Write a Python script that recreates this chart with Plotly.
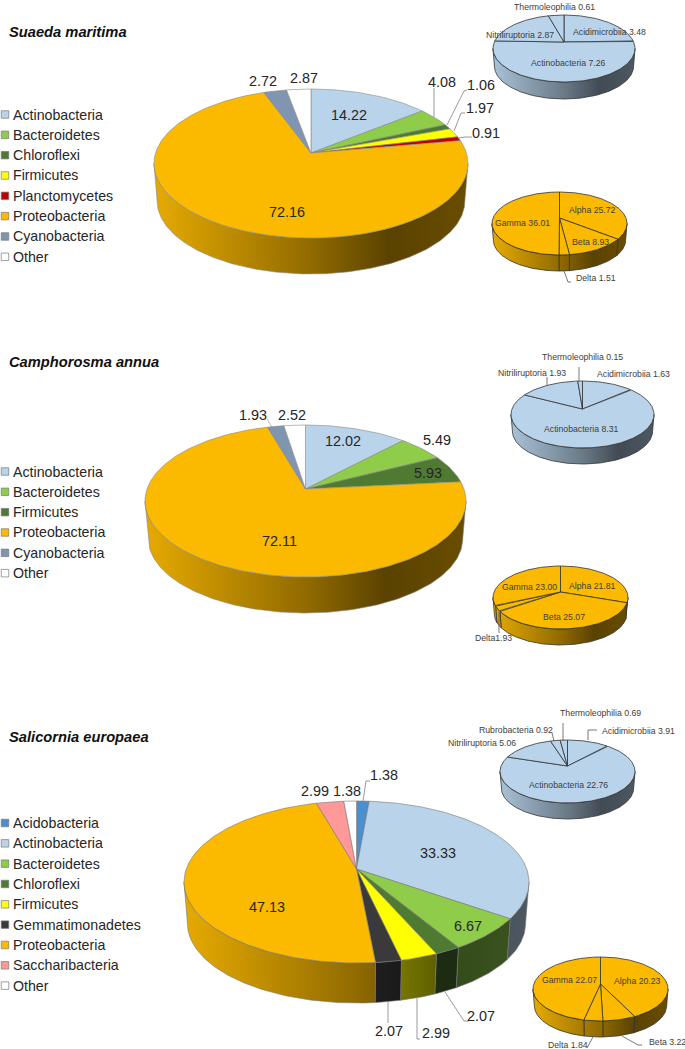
import math
import numpy as np
import plotly.graph_objects as go

# ---------- data ----------
titles = ["Suaeda maritima", "Camphorosma annua", "Salicornia europaea"]

main1_names = ["Actinobacteria", "Bacteroidetes", "Chloroflexi", "Firmicutes", "Planctomycetes", "Proteobacteria", "Cyanobacteria", "Other"]
main1_values = [14.22, 4.08, 1.06, 1.97, 0.91, 72.16, 2.72, 2.87]
main2_names = ["Actinobacteria", "Bacteroidetes", "Firmicutes", "Proteobacteria", "Cyanobacteria", "Other"]
main2_values = [12.02, 5.49, 5.93, 72.11, 1.93, 2.52]
main3_names = ["Acidobacteria", "Actinobacteria", "Bacteroidetes", "Chloroflexi", "Firmicutes", "Gemmatimonadetes", "Proteobacteria", "Saccharibacteria", "Other"]
main3_values = [1.38, 33.33, 6.67, 2.07, 2.99, 2.07, 47.13, 2.99, 1.38]

actino1_names = ["Acidimicrobiia", "Actinobacteria", "Nitriliruptoria", "Thermoleophilia"]
actino1_values = [3.48, 7.26, 2.87, 0.61]
actino2_names = ["Acidimicrobiia", "Actinobacteria", "Nitriliruptoria", "Thermoleophilia"]
actino2_values = [1.63, 8.31, 1.93, 0.15]
actino3_names = ["Acidimicrobiia", "Actinobacteria", "Nitriliruptoria", "Rubrobacteria", "Thermoleophilia"]
actino3_values = [3.91, 22.76, 5.06, 0.92, 0.69]

proteo_names = ["Alpha", "Beta", "Delta", "Gamma"]
proteo1_values = [25.72, 8.93, 1.51, 36.01]
proteo2_values = [21.81, 25.07, 1.93, 23.00]
proteo3_values = [20.23, 3.22, 1.84, 22.07]

# ---------- styles ----------
COLORS = {
    "Actinobacteria": "#B8D3EA", "Bacteroidetes": "#8ECC4A", "Chloroflexi": "#4E7A32",
    "Firmicutes": "#FFFF00", "Planctomycetes": "#C00000", "Proteobacteria": "#FBB900",
    "Cyanobacteria": "#7F95B0", "Other": "#FFFFFF", "Acidobacteria": "#4A90D0",
    "Gemmatimonadetes": "#3A3A3A", "Saccharibacteria": "#FF9999",
}
COLORS2 = dict(COLORS, Firmicutes=COLORS["Chloroflexi"])
FONT = "Liberation Sans"
BLUE, ORANGE = COLORS["Actinobacteria"], COLORS["Proteobacteria"]
SHADE = [(0.0, 0.92), (0.5, 0.58), (0.75, 0.36), (1.0, 0.42)]


def rgb(h):
    return [int(h[i:i + 2], 16) for i in (1, 3, 5)]


def side_scale(color):
    r = rgb(color)
    return [[p, "rgb(%d,%d,%d)" % tuple(c * m for c in r)] for p, m in SHADE]


fig = go.Figure()


def draw_pie(values, colors, box, line="#555555", lw=0.6):
    """box = left, right, top, apex_y, front_y, bottom_y of the drawn pie (page px)."""
    left, right, top, apex, front, bottom = box
    cx = (left + right) / 2
    fr, ba = front - apex, apex - top
    k = -(fr - ba) / (fr + ba)
    b = fr * (1 + k)
    A = (right - left) / 2 * math.sqrt(1 - k * k)
    S = 0.98
    d = bottom - apex - S * fr

    def top_pt(a):
        u, v = np.sin(a), -np.cos(a)
        w = 1 + k * v
        return cx + A * u / w, apex + b * v / w

    def bot_pt(a):
        x, y = top_pt(a)
        return cx + S * (x - cx), apex + d + S * (y - apex)

    total = sum(values)
    edges = np.cumsum([0] + list(values)) / total * 2 * math.pi
    vis0 = math.acos(k)
    vis1 = 2 * math.pi - vis0
    # sides first
    for i, col in enumerate(colors):
        a0, a1 = max(edges[i], vis0), min(edges[i + 1], vis1)
        if a1 <= a0:
            continue
        aa = np.linspace(a0, a1, max(3, int((a1 - a0) * 60)))
        tx, ty = top_pt(aa)
        bx, by = bot_pt(aa[::-1])
        fig.add_trace(go.Scatter(
            x=np.r_[tx, bx, tx[0]], y=np.r_[ty, by, ty[0]], mode="lines",
            line=dict(color=line, width=lw), fill="toself",
            fillgradient=dict(type="horizontal", start=left, stop=right, colorscale=side_scale(col)),
            hoverinfo="skip", showlegend=False))
    # top faces
    for i, col in enumerate(colors):
        aa = np.linspace(edges[i], edges[i + 1], max(3, int((edges[i + 1] - edges[i]) * 60)))
        tx, ty = top_pt(aa)
        fig.add_trace(go.Scatter(
            x=np.r_[cx, tx, cx], y=np.r_[apex, ty, apex], mode="lines",
            line=dict(color=line, width=lw), fill="toself", fillcolor=col,
            hoverinfo="skip", showlegend=False))


def fmt(v):
    return "%.2f" % v


def text(x, y, s, size=14.4, color="#262626"):
    fig.add_annotation(x=x, y=y, text=s, showarrow=False, xanchor="center", yanchor="middle",
                       font=dict(family=FONT, size=size, color=color))


def leader(xs, ys, color="#808080"):
    fig.add_trace(go.Scatter(x=xs, y=ys, mode="lines", line=dict(color=color, width=0.8),
                             hoverinfo="skip", showlegend=False))


def legend(names, y0, palette, pitch=20.33):
    ys = [y0 + i * pitch for i in range(len(names))]
    fig.add_trace(go.Scatter(
        x=[5] * len(names), y=ys, mode="markers",
        marker=dict(symbol="square", size=7.5, color=[palette[n] for n in names],
                    line=dict(color="#7a7a7a", width=0.7)),
        hoverinfo="skip", showlegend=False))
    for n, y in zip(names, ys):
        fig.add_annotation(x=12.5, y=y, text=n, showarrow=False, xanchor="left", yanchor="middle",
                           xshift=-2, font=dict(family=FONT, size=14.2, color="#262626"))


def cols(names, palette=COLORS):
    return [palette[n] for n in names]


# ---------- pies ----------
draw_pie(main1_values, cols(main1_names), (154, 468, 89, 153, 238, 274), "#8a8a8a", 0.6)
draw_pie(main2_values, cols(main2_names, COLORS2), (145, 466, 425, 489, 577, 613), "#8a8a8a", 0.6)
draw_pie(main3_values, cols(main3_names), (184, 529, 801, 869, 963, 1003), "#777777", 0.6)
draw_pie(actino1_values, [BLUE] * 4, (493, 635, 15, 42, 82, 99), "#333333", 0.8)
draw_pie(proteo1_values, [ORANGE] * 4, (492, 627, 192, 218, 255, 271), "#333333", 0.8)
draw_pie(actino2_values, [BLUE] * 4, (511, 654, 381, 409, 448, 464), "#333333", 0.8)
draw_pie(proteo2_values, [ORANGE] * 4, (493, 628, 566, 592, 629, 645), "#333333", 0.8)
draw_pie(actino3_values, [BLUE] * 5, (500, 635, 740, 766, 803, 819), "#333333", 0.8)
draw_pie(proteo3_values, [ORANGE] * 4, (533, 668, 957, 984, 1021, 1037), "#333333", 0.8)

# ---------- leaders ----------
leader([434, 434], [117, 88])
leader([447, 464, 467], [125, 91, 90])
leader([454, 461, 465], [131, 113, 113])
leader([459, 465, 472], [138, 137, 137])
leader([564, 568, 571], [271, 282, 282], "#555555")
leader([267, 272], [419, 427], "#aaaaaa")
leader([579, 579], [367, 381], "#555555")
leader([547, 547], [377, 385], "#555555")
leader([499, 499], [612, 633], "#555555")
leader([363, 366, 370], [801, 781, 781])
leader([445, 464, 469], [992, 1021, 1021])
leader([417, 417, 420], [998, 1039, 1039])
leader([388, 388], [1002, 1023])
leader([563, 563], [723, 741], "#555555")
leader([588, 588, 597], [740, 730, 730], "#555555")
leader([552, 554], [733, 741], "#555555")
leader([622, 638, 642], [1036, 1045, 1045], "#555555")
leader([593, 587], [1037, 1048], "#555555")

# ---------- main labels ----------
pos1 = [(349, 115), (442, 82), (481, 85), (480, 108), (486, 133), (287, 212), (263, 81), (304, 78)]
pos2 = [(343, 441), (437, 440), (428, 473), (279, 541), (253, 415), (292, 415)]
pos3 = [(384, 775), (438, 853), (468, 926), (481, 1016), (436, 1033), (389, 1031), (267, 907), (315, 791), (347, 791)]
for vals, pos in ((main1_values, pos1), (main2_values, pos2), (main3_values, pos3)):
    for v, (x, y) in zip(vals, pos):
        text(x, y, fmt(v))

# ---------- small labels ----------
SMALL = 8.7
SC = "#404040"
a1pos = [(609, 32), (568, 63), (520, 35), (554, 7)]
p1pos = [(592, 210), (590, 242), (596, 278), (522, 223)]
a2pos = [(633, 374), (581, 429), (532, 373), (582, 357)]
p2pos = [(592, 586), (564, 617), (493, 638), (529, 587)]
a3pos = [(638, 731), (568, 785), (482, 743), (516, 730), (600, 713)]
p3pos = [(637, 981), (667, 1042), (568, 1045), (569, 980)]
for names, vals, pos in ((actino1_names, actino1_values, a1pos), (proteo_names, proteo1_values, p1pos),
                         (actino2_names, actino2_values, a2pos), (proteo_names, proteo2_values, p2pos),
                         (actino3_names, actino3_values, a3pos), (proteo_names, proteo3_values, p3pos)):
    for n, v, (x, y) in zip(names, vals, pos):
        s = ("Delta" + fmt(v)) if (vals is proteo2_values and n == "Delta") else (n + " " + fmt(v))
        text(x, y, s, SMALL, SC)

# ---------- legends and titles ----------
legend(main1_names, 114.5, COLORS)
legend(main2_names, 471.5, COLORS2)
legend(main3_names, 823, COLORS)
for t, y in zip(titles, (32, 362, 737)):
    fig.add_annotation(x=9, y=y, text="<b><i>%s</i></b>" % t, showarrow=False, xanchor="left", yanchor="middle",
                       xshift=-2, font=dict(family=FONT, size=14.7, color="#111111"))

fig.update_layout(
    width=685, height=1049, margin=dict(l=0, r=0, t=0, b=0), autosize=False,
    paper_bgcolor="white", plot_bgcolor="white", showlegend=False,
    xaxis=dict(range=[0, 685], visible=False, fixedrange=True),
    yaxis=dict(range=[1049, 0], visible=False, fixedrange=True),
)
fig.write_html("out.html", config={"displayModeBar": False},
               post_script="document.body.style.margin='0';document.body.style.overflow='hidden';")
